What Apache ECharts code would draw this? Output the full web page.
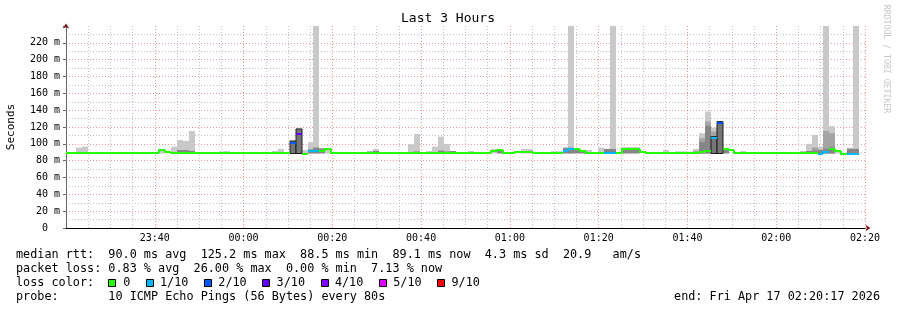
<!DOCTYPE html>
<html><head><meta charset="utf-8">
<script src="https://cdn.jsdelivr.net/npm/echarts@6/dist/echarts.min.js"></script>
<style>html,body{margin:0;padding:0;background:#fff}#c{width:897px;height:310px}</style>
</head><body><div id="c"></div>
<script>
// ---------------- data ----------------
const TITLE = 'Last 3 Hours';
// x axis: minutes after 23:20
const X_TICK_LABELS = ['23:40','00:00','00:20','00:40','01:00','01:20','01:40','02:00','02:20'];
// RRD bins (80 s each); start of bin 0 (minutes after 23:20) and bin length (minutes)
const BIN0 = -0.37;
const BIN_LEN = 1.336;
// median RTT per bin (ms)
const MEDIAN = [
  89,89,89,89,89,89,89,89,89,89,
  89,89,89,89,89,89.6,92.4,90.8,88.6,89,
  89,89,89,89,89,89,89,89,89,89,
  89,89,89,89,89,89,89,89,100.5,111.2,
  88.4,91,91,92,94,89,89,89,89,89,
  89,89,89,89,89,89,89,89,89,89,
  89,89,89,89,89,89,89,89,89,89,
  89,89,91,92.5,89,89,90.5,90.5,90.5,89,
  89,89,89,89,91,93.5,93.3,91.5,89,89,
  89,89,89,89,93.4,93.5,93.5,90.5,89,89,
  89,89,89,89,89,89,89,90.5,91.7,106.7,
  124.6,94,92.5,89,89,89,89,89,89,89,
  89,89,89,89,89,89,89,88.4,90.3,93.5,
  91,88.5,88.3,88.3,null
];
// lost pings (of 10) per bin
const LOSS = [
  0,0,0,0,0,0,0,0,0,0,
  0,0,0,0,0,0,0,0,0,0,
  0,0,0,0,0,0,0,0,0,0,
  0,0,0,0,0,0,0,0,2,3,
  0,1,1,0,0,0,0,0,0,0,
  0,0,0,0,0,0,0,0,0,0,
  0,0,0,0,0,0,0,0,0,0,
  0,0,0,0,0,0,0,0,0,0,
  0,0,0,0,1,1,0,0,0,0,
  0,1,1,0,0,0,0,0,0,0,
  0,0,0,0,0,0,0,0,0,1,
  2,0,0,0,0,0,0,0,0,0,
  0,0,0,0,0,0,0,1,1,0,
  0,0,1,1,0
];
const SMOKE_FLOOR = 88.5; // min rtt
// smoke: [bin, top value in ms]
const SMOKE_LIGHT = [[2,95.5],[3,96.7],[4,90.3],[16,93],[18,96.7],[19,104.6],[20,103.5],[21,115.3],[23,90.3],[26,91],[27,91.5],
  [35,91.5],[36,94],[40,92.7],[41,102],[42,240],[44,94.5],[52,94],[58,99.5],[59,111.8],[61,91.5],[62,96.7],[63,108.6],[64,99.9],
  [68,91.5],[72,94],[77,94],[78,94],[85,240],[88,92.7],[90,95.5],[92,240],[100,90],[101,92.7],[103,91],[105,90.7],[106,94],
  [107,112.6],[108,138.3],[109,119.3],[113,90],[114,91.5],[123,90],[124,91.5],[125,100],[126,110.6],[127,96.7],[128,240],
  [129,121],[130,92.7],[132,95.5],[133,240]];
const SMOKE_MID = [[107,106.6],[108,126.4],[109,114.5],[126,95.5],[128,115.3],[129,112.6]];
const SMOKE_DARK = [[19,92.7],[20,92.7],[21,91.6],[41,93.5],[42,95.5],[43,94.7],[51,91],[52,91.5],[59,91],[63,92],[64,91],[65,91.5],
  [73,92],[82,90.7],[83,90.7],[84,95.5],[85,95.5],[86,94.7],[87,92],[91,94],[92,94],[94,95.5],[95,95.5],[96,95.5],[104,90.7],
  [106,91],[107,101.9],[108,121.3],[111,93],[124,90.5],[125,91.5],[126,92],[127,93],[128,94],[129,96],[132,94],[133,94]];
const SMOKE_BOX = [[38,103.4],[39,117.7],[109,108.5],[110,126.4]];
// loss legend
const LOSS_LEVELS = [0,1,2,3,4,5,9];
const LOSS_LABELS = ['0','1/10','2/10','3/10','4/10','5/10','9/10'];
const LOSS_COLORS = ['#26ff00','#00b8ff','#0059ff','#5e00ff','#7e00ff','#dd00ff','#ff0000'];
const LEGEND_LINES = [
  'median rtt:  90.0 ms avg  125.2 ms max  88.5 ms min  89.1 ms now  4.3 ms sd  20.9   am/s',
  'packet loss: 0.83 % avg  26.00 % max  0.00 % min  7.13 % now',
  'loss color:',
  'probe:       10 ICMP Echo Pings (56 Bytes) every 80s'
];
const END_TEXT = 'end: Fri Apr 17 02:20:17 2026';
const Y_LABEL = 'Seconds';
const WATERMARK = 'RRDTOOL / TOBI OETIKER';

// ---------------- helpers ----------------
const MONO = '"DejaVu Sans Mono", monospace';
function binStart(i){ return BIN0 + i*BIN_LEN; }
function lossColor(n){ let c = LOSS_COLORS[0]; LOSS_LEVELS.forEach((l,k)=>{ if(n>=l) c = LOSS_COLORS[k]; }); return c; }

function rectSeries(list, fill, stroke){
  return {
    type:'custom', silent:true, animation:false, z: 2,
    data: list.map(([i, top]) => [binStart(i), binStart(i+1), SMOKE_FLOOR, top]),
    renderItem: (params, api) => {
      const a = api.coord([api.value(0), api.value(3)]);
      const b = api.coord([api.value(1), api.value(2)]);
      const x0 = Math.round(a[0]), x1 = Math.round(b[0]);
      const shape = echarts.graphic.clipRectByRect({x:x0, y:a[1], width:x1-x0, height:b[1]-a[1]}, params.coordSys);
      if (!shape) return null;
      return {type:'rect', shape, style:{fill, stroke: stroke || null, lineWidth: 1}};
    }
  };
}

const medData = [];
MEDIAN.forEach((m,i) => { if (m == null) return; medData.push([binStart(i), binStart(i+1), m, i>0 ? MEDIAN[i-1] : null, LOSS[i], i>0 ? LOSS[i-1] : null]); });

const medianSeries = {
  type:'custom', silent:true, animation:false, z: 3,
  data: medData,
  renderItem: (params, api) => {
    const d = medData[params.dataIndex];
    const cs = params.coordSys;
    const p0 = api.coord([d[0], d[2]]);
    const p1 = api.coord([d[1], d[2]]);
    const x0 = Math.max(Math.round(p0[0]), cs.x), x1 = Math.round(p1[0]);
    const y = Math.round(p0[1]);
    const col = lossColor(d[4]);
    const pts = [];
    if (d[3] != null && d[0] > 0 && lossColor(d[5]) === col) {
      const yp = Math.round(api.coord([d[0], d[3]])[1]);
      pts.push([x0, yp]);
    }
    pts.push([x0, y]); pts.push([x1, y]);
    return {type:'polyline', shape:{points: pts}, style:{stroke: col, lineWidth: 2, fill: null}};
  }
};

// ---------------- chart ----------------
const chart = echarts.init(document.getElementById('c'), null, {renderer:'canvas'});
const gridRed = {color:'rgba(225,70,70,0.55)', type:[1,2], width:1};
const gridGrey = {color:'#c2c2c2', type:[1,2], width:1};

const graphics = [
  {type:'text', style:{text: TITLE, x: 448, y: 19, align:'center', verticalAlign:'middle', font:'13px ' + MONO, fill:'#000'}},
  {type:'text', rotation: Math.PI/2, x: 11, y: 127, style:{text: Y_LABEL, x:0, y:0, align:'center', verticalAlign:'middle', font:'11px ' + MONO, fill:'#000'}},
  {type:'text', rotation: -Math.PI/2, x: 886, y: 59, style:{text: WATERMARK, x:0, y:0, align:'center', verticalAlign:'middle', font:'8.2px ' + MONO, fill:'#c8c8c8'}},
];
const LINE_Y = [254.5, 268.5, 282.5, 296.5];
LEGEND_LINES.forEach((t,k) => graphics.push({type:'text', style:{text:t, x:16, y:LINE_Y[k], align:'left', verticalAlign:'middle', font:'11.8px ' + MONO, fill:'#000'}}));
graphics.push({type:'text', style:{text:END_TEXT, x:880, y:LINE_Y[3], align:'right', verticalAlign:'middle', font:'11.8px ' + MONO, fill:'#000'}});
const BOX_X = [108.3, 145.7, 204, 262.3, 320.6, 378.9, 437.2];
LOSS_LABELS.forEach((lab,k) => {
  graphics.push({type:'rect', shape:{x: Math.round(BOX_X[k]) + 0.5, y: 279.5, width: 7, height: 7}, style:{fill: LOSS_COLORS[k], stroke:'#000', lineWidth:1}});
  graphics.push({type:'text', style:{text: lab, x: BOX_X[k] + (k === 0 ? 15 : 14.3), y: LINE_Y[2], align:'left', verticalAlign:'middle', font:'11.8px ' + MONO, fill:'#000'}});
});

chart.setOption({
  animation:false,
  backgroundColor:'#ffffff',
  grid:{left:66, right:32, top:26, bottom:82, containLabel:false},
  xAxis:[{
    type:'value', min:0, max:180, interval:20,
    axisLine:{show:true, onZero:false, lineStyle:{color:'#000', width:1}},
    axisTick:{show:false},
    axisLabel:{margin:5, color:'#000', fontFamily:'DejaVu Sans Mono', fontSize:10,
      formatter: v => v === 0 ? '' : X_TICK_LABELS[Math.round(v/20) - 1]},
    splitLine:{show:true, showMinLine:false, showMaxLine:true, lineStyle:gridRed},
    minorTick:{show:false, splitNumber:4},
    minorSplitLine:{show:true, lineStyle:gridGrey}
  },{
    type:'value', min:0, max:180, position:'bottom', show:true,
    axisLine:{show:true, onZero:false, symbol:['none','arrow'], symbolSize:[5,5], symbolOffset:[0,5.5], lineStyle:{color:'#7a1616', opacity:0}},
    axisTick:{show:false}, axisLabel:{show:false}, splitLine:{show:false}
  }],
  yAxis:[{
    type:'value', min:0, max:240, interval:20,
    axisLine:{show:true, onZero:false, lineStyle:{color:'#666', width:1}},
    axisTick:{show:true, length:3, lineStyle:{color:'#666'}},
    axisLabel:{margin:6, color:'#000', fontFamily:'DejaVu Sans Mono', fontSize:10,
      formatter: v => v === 0 ? '0  ' : (v < 240 ? v + ' m' : '')},
    splitLine:{show:true, showMinLine:false, showMaxLine:false, lineStyle:gridRed},
    minorTick:{show:false, splitNumber:2},
    minorSplitLine:{show:true, lineStyle:gridGrey}
  },{
    type:'value', min:0, max:240, position:'left', show:true,
    axisLine:{show:true, onZero:false, symbol:['none','arrow'], symbolSize:[5,5], symbolOffset:[0,2.6], lineStyle:{color:'#7a1616', opacity:0}},
    axisTick:{show:false}, axisLabel:{show:false}, splitLine:{show:false}
  }],
  series:[
    rectSeries(SMOKE_LIGHT, '#c9c9c9'),
    rectSeries(SMOKE_MID, '#a4a4a4'),
    rectSeries(SMOKE_DARK, '#868686'),
    rectSeries(SMOKE_BOX, '#767676', '#1c1c1c'),
    medianSeries
  ],
  graphic: graphics
});
</script></body></html>
